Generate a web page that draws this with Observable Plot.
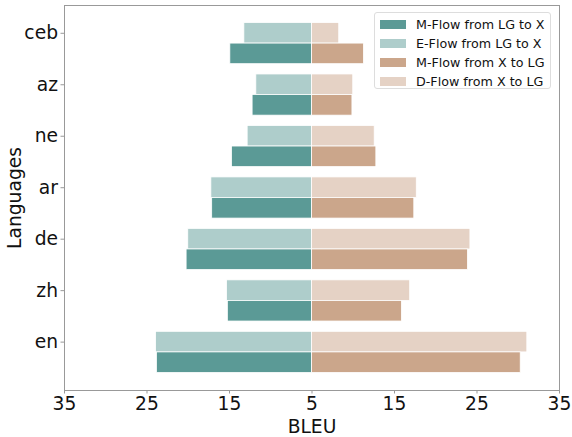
<!DOCTYPE html>
<html>
<head>
<meta charset="utf-8">
<script src="https://cdn.jsdelivr.net/npm/d3@7"></script>
<script src="https://cdn.jsdelivr.net/npm/@observablehq/plot@0.6"></script>
<style>
  html, body { margin: 0; padding: 0; background: #fff; }
  #chart { position: relative; width: 572px; height: 437px; font-family: "DejaVu Sans", sans-serif; }
  #legend { position: absolute; left: 374px; top: 12px; width: 177px; height: 77px; border: 1px solid #ddd; border-radius: 3px; background: rgba(255,255,255,0.8); box-sizing: border-box; font-size: 12.7px; color: #111; padding-top: 2px; }
  .row { display: flex; align-items: center; height: 19px; }
  .sw { width: 26px; height: 9px; margin-left: 5px; margin-right: 10px; }
</style>
</head>
<body>
<div id="chart"></div>
<script>
const languages = ["ceb", "az", "ne", "ar", "de", "zh", "en"];
const mFlowLGtoX = [14.9, 12.2, 14.7, 17.1, 20.2, 15.2, 23.8];
const eFlowLGtoX = [13.2, 11.75, 12.8, 17.2, 20.0, 15.3, 23.9];
const mFlowXtoLG = [11.3, 9.9, 12.8, 17.4, 23.9, 15.9, 30.3];
const dFlowXtoLG = [8.3, 10.0, 12.6, 17.7, 24.2, 16.9, 31.1];
const xTickLabels = ["35", "25", "15", "5", "15", "25", "35"];
const seriesNames = ["M-Flow from LG to X", "E-Flow from LG to X", "M-Flow from X to LG", "D-Flow from X to LG"];
const seriesColors = ["#5b9a96", "#aecdcb", "#cba68b", "#e5d2c5"];

const base = 5;
const rows = [];
languages.forEach((lang, i) => {
  rows.push({i, v: eFlowLGtoX[i], side: -1, upper: true, s: 1});
  rows.push({i, v: mFlowLGtoX[i], side: -1, upper: false, s: 0});
  rows.push({i, v: dFlowXtoLG[i], side: 1, upper: true, s: 3});
  rows.push({i, v: mFlowXtoLG[i], side: 1, upper: false, s: 2});
});

const xTickPos = [-30, -20, -10, 0, 10, 20, 30];

const plot = Plot.plot({
  width: 572,
  height: 437,
  marginTop: 5,
  marginBottom: 47,
  marginLeft: 64,
  marginRight: 13,
  style: {fontFamily: "DejaVu Sans, sans-serif", fontSize: "18.7px", color: "#111", background: "white"},
  x: {domain: [-30, 30]},
  y: {domain: [6.94, -0.54]},
  marks: [
    Plot.rectX(rows, {
      x1: d => d.side < 0 ? -(d.v - base) : 0,
      x2: d => d.side < 0 ? 0 : (d.v - base),
      y1: d => d.upper ? d.i - 0.2 : d.i + 0.2,
      y2: d => d.upper ? d.i + 0.2 : d.i + 0.6,
      fill: d => seriesColors[d.s],
      stroke: "white",
      strokeWidth: 0.8
    }),
    Plot.frame({stroke: "#999", strokeWidth: 1}),
    Plot.axisX({
      ticks: xTickPos,
      tickFormat: d => xTickLabels[xTickPos.indexOf(d)],
      tickSize: 3.5,
      tickPadding: 3,
      stroke: "#999",
      fontSize: 18.7,
      label: "BLEU",
      labelAnchor: "center",
      labelArrow: "none",
      labelOffset: 42
    }),
    Plot.axisY({
      ticks: d3.range(languages.length),
      tickFormat: d => languages[d],
      tickSize: 3.5,
      tickPadding: 3,
      stroke: "#999",
      fontSize: 18.7,
      label: "Languages",
      labelAnchor: "center",
      labelArrow: "none",
      labelOffset: 57
    })
  ]
});

const chart = document.getElementById("chart");
chart.appendChild(plot);

const legend = document.createElement("div");
legend.id = "legend";
seriesNames.forEach((name, k) => {
  const row = document.createElement("div");
  row.className = "row";
  const sw = document.createElement("div");
  sw.className = "sw";
  sw.style.background = seriesColors[k];
  const t = document.createElement("span");
  t.textContent = name;
  row.appendChild(sw);
  row.appendChild(t);
  legend.appendChild(row);
});
chart.appendChild(legend);
</script>
</body>
</html>
